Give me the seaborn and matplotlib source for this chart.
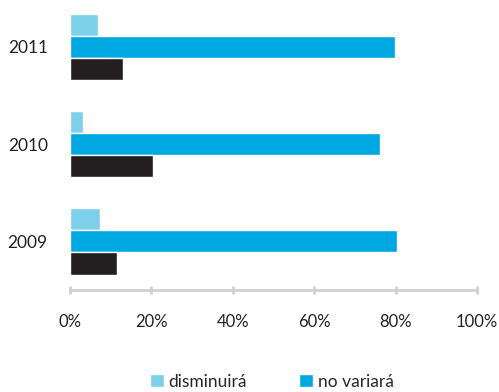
import matplotlib
matplotlib.use("Agg")
import matplotlib.pyplot as plt
import seaborn as sns
import pandas as pd
from matplotlib.patches import Patch
from matplotlib.ticker import FuncFormatter

years = ["2011", "2010", "2009"]
series = ["disminuirá", "no variará", "aumentará"]
disminuira = [6.9, 3.2, 7.4]
no_variara = [79.8, 76.2, 80.3]
aumentara = [12.9, 20.4, 11.6]
colors = ["#7DCFEA", "#00A8E1", "#231F20"]
xticks = [0, 20, 40, 60, 80, 100]

rows = []
for name, vals in zip(series, [disminuira, no_variara, aumentara]):
    for y, v in zip(years, vals):
        rows.append({"year": y, "serie": name, "valor": v})
df = pd.DataFrame(rows)

sns.set_theme(style="white")
plt.rcParams["font.family"] = ["Lato", "DejaVu Sans"]

fig = plt.figure(figsize=(4.99, 3.92), dpi=100)
ax = fig.add_axes([0.1403, 0.26, 0.8156, 0.745])

sns.barplot(data=df, y="year", x="valor", hue="serie", order=years,
            hue_order=series, palette=colors, width=0.68, gap=0,
            saturation=1, orient="h", ax=ax, legend=False)

ax.set_xlim(0, 100)
ax.set_ylim(2.5, -0.5)
ax.set_xticks(xticks)
ax.xaxis.set_major_formatter(FuncFormatter(lambda v, p: f"{v:.0f}%"))
ax.set_xlabel("")
ax.set_ylabel("")
for s in ["top", "right", "left"]:
    ax.spines[s].set_visible(False)
ax.spines["bottom"].set_color("#D0D0D0")
ax.spines["bottom"].set_linewidth(2)
ax.tick_params(axis="x", direction="inout", length=6, width=2, color="#D0D0D0",
               labelsize=12, labelcolor="#222222", pad=14, bottom=True)
ax.tick_params(axis="y", length=0, labelsize=12.5, labelcolor="#222222", pad=16)

handles = [Patch(facecolor=colors[0], label=series[0]),
           Patch(facecolor=colors[1], label=series[1])]
fig.legend(handles=handles, loc="center", bbox_to_anchor=(0.545, 0.026),
           ncol=2, frameon=False, fontsize=12.5, handlelength=0.8,
           handleheight=0.8, handletextpad=0.3, columnspacing=3.0)

fig.savefig("out.png", dpi=100)
